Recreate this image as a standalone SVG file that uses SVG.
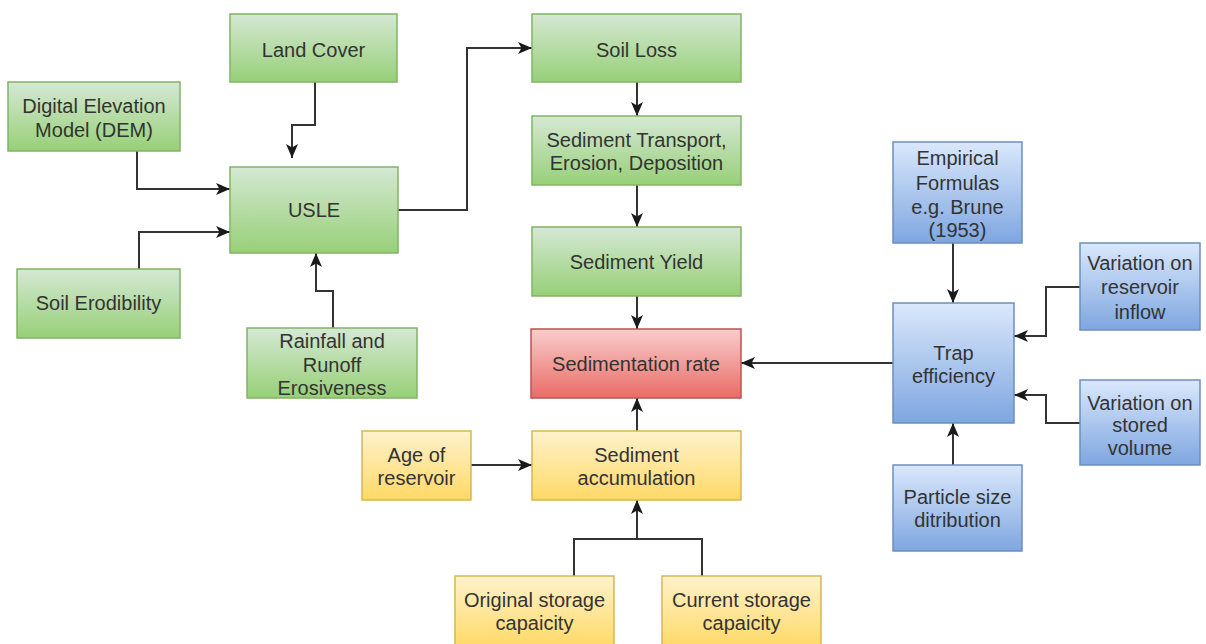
<svg xmlns="http://www.w3.org/2000/svg" width="1206" height="644" viewBox="0 0 1206 644">
  <defs>
    <linearGradient id="gGreen" x1="0" y1="0" x2="0" y2="1">
      <stop offset="0" stop-color="#d5e8d4"/>
      <stop offset="1" stop-color="#97d077"/>
    </linearGradient>
    <linearGradient id="gRed" x1="0" y1="0" x2="0" y2="1">
      <stop offset="0" stop-color="#f8cecc"/>
      <stop offset="1" stop-color="#ea6b66"/>
    </linearGradient>
    <linearGradient id="gYellow" x1="0" y1="0" x2="0" y2="1">
      <stop offset="0" stop-color="#fff2cc"/>
      <stop offset="1" stop-color="#ffd966"/>
    </linearGradient>
    <linearGradient id="gBlue" x1="0" y1="0" x2="0" y2="1">
      <stop offset="0" stop-color="#dae8fc"/>
      <stop offset="1" stop-color="#7ea6e0"/>
    </linearGradient>
    <marker id="arrow" viewBox="0 0 14 12" refX="14" refY="6" markerWidth="14" markerHeight="12" markerUnits="userSpaceOnUse" orient="auto">
      <path d="M0,0 L14,6 L0,12 L3.5,6 Z" fill="#1a1a1a"/>
    </marker>
    <style>
      .green { fill: url(#gGreen); stroke: #82b366; stroke-width: 1.5; }
      .red { fill: url(#gRed); stroke: #b85450; stroke-width: 1.5; }
      .yellow { fill: url(#gYellow); stroke: #d6b656; stroke-width: 1.5; }
      .blue { fill: url(#gBlue); stroke: #6c8ebf; stroke-width: 1.5; }
      text { font-family: "Liberation Sans", Arial, sans-serif; font-size: 20px; fill: #333333; text-anchor: middle; }
      .conn path { fill: none; stroke: #333333; stroke-width: 2; marker-end: url(#arrow); }
      .conn .plain { marker-end: none; }
    </style>
  </defs>
  <rect width="1206" height="644" fill="#ffffff"/>

  <!-- connectors -->
  <g id="connectors" class="conn">
    <path d="M315,82 V125 H292 V158"/>
    <path d="M137,151 V189 H230"/>
    <path d="M139,269 V232 H230"/>
    <path d="M333,328 V291 H316 V253"/>
    <path d="M398,210 H467 V48 H532"/>
    <path d="M637,82 V116"/>
    <path d="M637,185 V227"/>
    <path d="M637,296 V329"/>
    <path d="M637,431 V398"/>
    <path d="M471,465 H532"/>
    <path class="plain" d="M574,576 V539 H702 V576"/>
    <path d="M637,539 V500"/>
    <path d="M893,363 H741"/>
    <path d="M953,243 V303"/>
    <path d="M1080,287 H1046 V336 H1014"/>
    <path d="M1080,423 H1046 V395 H1014"/>
    <path d="M953,465 V423"/>
  </g>

  <!-- green nodes: soil loss chain -->
  <g id="land-cover">
    <rect class="green" x="230" y="14" width="167" height="68"/>
    <text x="313.5" y="57">Land Cover</text>
  </g>
  <g id="dem">
    <rect class="green" x="8" y="82" width="172" height="69"/>
    <text x="94" y="113">Digital Elevation</text>
    <text x="94" y="137">Model (DEM)</text>
  </g>
  <g id="usle">
    <rect class="green" x="230" y="167" width="168" height="86"/>
    <text x="314" y="217">USLE</text>
  </g>
  <g id="soil-erodibility">
    <rect class="green" x="17" y="269" width="163" height="69"/>
    <text x="98.5" y="310">Soil Erodibility</text>
  </g>
  <g id="rainfall">
    <rect class="green" x="247" y="328" width="170" height="70"/>
    <text x="332" y="348">Rainfall and</text>
    <text x="332" y="372">Runoff</text>
    <text x="332" y="395">Erosiveness</text>
  </g>
  <g id="soil-loss">
    <rect class="green" x="532" y="14" width="209" height="68"/>
    <text x="636.5" y="57">Soil Loss</text>
  </g>
  <g id="sediment-transport">
    <rect class="green" x="532" y="116" width="209" height="69"/>
    <text x="636.5" y="147">Sediment Transport,</text>
    <text x="636.5" y="170">Erosion, Deposition</text>
  </g>
  <g id="sediment-yield">
    <rect class="green" x="532" y="227" width="209" height="69"/>
    <text x="636.5" y="269">Sediment Yield</text>
  </g>

  <!-- result node -->
  <g id="sedimentation-rate">
    <rect class="red" x="531" y="329" width="210" height="69"/>
    <text x="636" y="371">Sedimentation rate</text>
  </g>

  <!-- yellow nodes: accumulation -->
  <g id="sediment-accumulation">
    <rect class="yellow" x="532" y="431" width="209" height="69"/>
    <text x="636.5" y="462">Sediment</text>
    <text x="636.5" y="485">accumulation</text>
  </g>
  <g id="age-of-reservoir">
    <rect class="yellow" x="362" y="431" width="109" height="69"/>
    <text x="416.5" y="462">Age of</text>
    <text x="416.5" y="485">reservoir</text>
  </g>
  <g id="original-storage">
    <rect class="yellow" x="455" y="576" width="159" height="72"/>
    <text x="534.5" y="607">Original storage</text>
    <text x="534.5" y="630">capaicity</text>
  </g>
  <g id="current-storage">
    <rect class="yellow" x="662" y="576" width="159" height="72"/>
    <text x="741.5" y="607">Current storage</text>
    <text x="741.5" y="630">capaicity</text>
  </g>

  <!-- blue nodes: trap efficiency -->
  <g id="empirical-formulas">
    <rect class="blue" x="893" y="142" width="129" height="101"/>
    <text x="957.5" y="165">Empirical</text>
    <text x="957.5" y="190">Formulas</text>
    <text x="957.5" y="214">e.g. Brune</text>
    <text x="957.5" y="237">(1953)</text>
  </g>
  <g id="trap-efficiency">
    <rect class="blue" x="893" y="303" width="121" height="120"/>
    <text x="953.5" y="360">Trap</text>
    <text x="953.5" y="383">efficiency</text>
  </g>
  <g id="variation-inflow">
    <rect class="blue" x="1080" y="243" width="120" height="87"/>
    <text x="1140" y="270">Variation on</text>
    <text x="1140" y="294">reservoir</text>
    <text x="1140" y="319">inflow</text>
  </g>
  <g id="variation-volume">
    <rect class="blue" x="1080" y="380" width="120" height="85"/>
    <text x="1140" y="410">Variation on</text>
    <text x="1140" y="432">stored</text>
    <text x="1140" y="455">volume</text>
  </g>
  <g id="particle-size">
    <rect class="blue" x="893" y="465" width="129" height="86"/>
    <text x="957.5" y="504">Particle size</text>
    <text x="957.5" y="527">ditribution</text>
  </g>
</svg>
